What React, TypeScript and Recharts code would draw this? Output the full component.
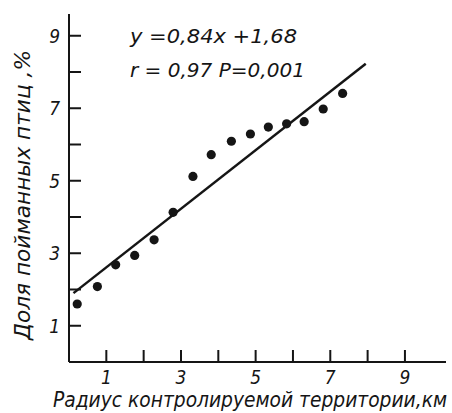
import { ScatterChart, Scatter, XAxis, YAxis, ReferenceLine } from 'recharts';

// radius of controlled territory, km
const radiusKm = [0.22, 0.76, 1.25, 1.76, 2.28, 2.79, 3.32, 3.81, 4.35, 4.86, 5.34, 5.83, 6.3, 6.81, 7.33];
// share of caught birds, %
const birdShare = [1.6, 2.08, 2.68, 2.94, 3.37, 4.13, 5.12, 5.72, 6.09, 6.29, 6.48, 6.57, 6.63, 6.98, 7.41];
// end points of the fitted line as drawn
const fitStart = { x: 0.12, y: 1.9 };
const fitEnd = { x: 7.95, y: 8.23 };

const xTicks = [1, 2, 3, 4, 5, 6, 7, 8, 9];
const yTicks = [1, 2, 3, 4, 5, 6, 7, 8, 9];
const labeledTicks = [1, 3, 5, 7, 9];

const points = radiusKm.map((x, i) => ({ x, y: birdShare[i] }));

const INK = '#151515';
const FONT = '"DejaVu Sans Condensed", "DejaVu Sans", sans-serif';

function XTick(props: any) {
  const { x, y, payload } = props;
  const v = payload.value;
  return (
    <g>
      <line x1={x} y1={y} x2={x} y2={y - 12} stroke={INK} strokeWidth={2} />
      {labeledTicks.includes(v) && (
        <text x={x} y={y + 22} textAnchor="middle" fill={INK} fontSize={19} fontStyle="italic" fontFamily={FONT}>
          {v}
        </text>
      )}
    </g>
  );
}

function YTick(props: any) {
  const { x, y, payload } = props;
  const v = payload.value;
  return (
    <g>
      <line x1={x} y1={y} x2={x + 12} y2={y} stroke={INK} strokeWidth={2} />
      {labeledTicks.includes(v) && (
        <text x={x - 9} y={y + 7} textAnchor="end" fill={INK} fontSize={19} fontStyle="italic" fontFamily={FONT}>
          {v}
        </text>
      )}
    </g>
  );
}

export default function App() {
  return (
    <div style={{ position: 'absolute', left: 0, top: 0, background: '#fff' }}>
      <ScatterChart width={452} height={413} margin={{ top: 14, right: 6, left: 0, bottom: 0 }}>
        <XAxis
          type="number"
          dataKey="x"
          domain={[0, 10.1]}
          ticks={xTicks}
          interval={0}
          height={51}
          tickSize={0}
          tickMargin={0}
          tick={XTick}
          axisLine={{ stroke: INK, strokeWidth: 2 }}
          allowDataOverflow
        />
        <YAxis
          type="number"
          dataKey="y"
          domain={[0, 9.6]}
          ticks={yTicks}
          interval={0}
          width={69}
          tickSize={0}
          tickMargin={0}
          tick={YTick}
          axisLine={{ stroke: INK, strokeWidth: 2 }}
          allowDataOverflow
        />
        <ReferenceLine segment={[fitStart, fitEnd]} stroke={INK} strokeWidth={2.5} ifOverflow="visible" />
        <Scatter
          data={points}
          isAnimationActive={false}
          shape={(p: any) => <circle cx={p.cx} cy={p.cy} r={4.6} fill={INK} />}
        />
        <text x={130} y={43} fill={INK} fontSize={20} fontStyle="italic" fontFamily={FONT} textLength={167} lengthAdjust="spacingAndGlyphs">
          y =0,84x  +1,68
        </text>
        <text x={130} y={77} fill={INK} fontSize={20} fontStyle="italic" fontFamily={FONT} textLength={175} lengthAdjust="spacingAndGlyphs">
          r = 0,97 P=0,001
        </text>
        <text x={53} y={407} fill={INK} fontSize={21} fontStyle="italic" fontFamily={FONT} textLength={394} lengthAdjust="spacingAndGlyphs">
          Радиус  контролируемой территории,км
        </text>
        <text
          x={0}
          y={0}
          transform="translate(30, 195) rotate(-90)"
          textAnchor="middle"
          fill={INK}
          fontSize={22}
          fontStyle="italic"
          fontFamily={FONT}
          textLength={290}
          lengthAdjust="spacingAndGlyphs"
        >
          Доля пойманных птиц ,%
        </text>
      </ScatterChart>
    </div>
  );
}
